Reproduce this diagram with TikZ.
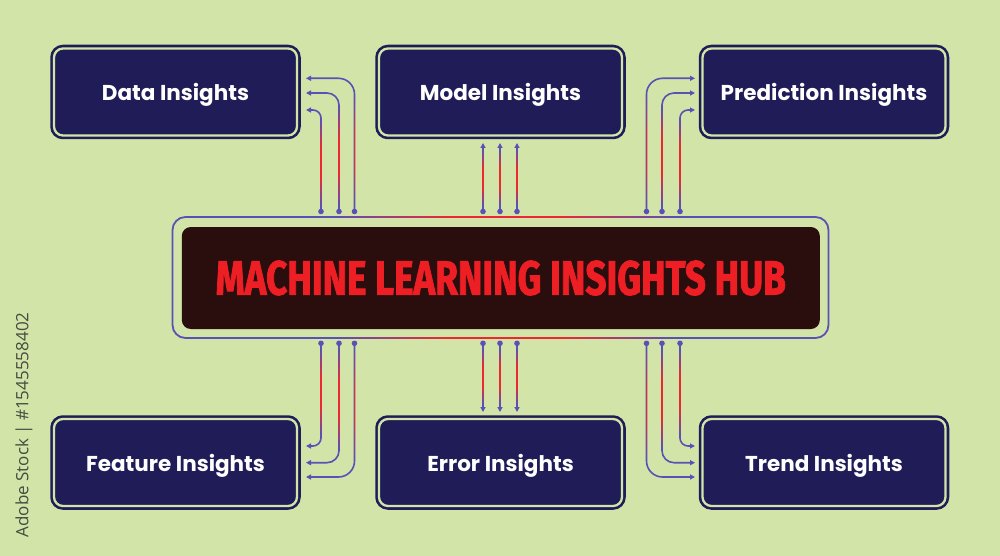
\documentclass[tikz,border=0pt]{standalone}
\usepackage{graphicx}
\usepackage{fontspec}
\setmainfont{Poppins}
\newfontfamily\titlefont[FakeBold=2]{Fira Sans}
\newfontfamily\wmfont{Open Sans}
\usetikzlibrary{arrows.meta}
\definecolor{bg}{RGB}{211,228,168}
\definecolor{navy}{RGB}{31,28,88}
\definecolor{hubfill}{RGB}{42,14,14}
\definecolor{hubred}{RGB}{237,30,36}
\definecolor{lineblue}{RGB}{90,80,182}
\definecolor{linered}{RGB}{238,40,50}
\definecolor{wmgray}{RGB}{70,76,64}
\tikzset{
  insight/.style={fill=navy, draw=navy, line width=2.6pt, double=bg, double distance=2.3pt,
    rounded corners=9pt, minimum width=243pt, minimum height=87pt, inner sep=0pt, outer sep=0pt,
    text=white, font=\fontsize{21.5}{23}\selectfont\bfseries, text depth=0pt},
  conn/.style={draw=lineblue, line width=1.6pt, -{Triangle[length=5pt,width=5pt]}},
  dotc/.style={fill=lineblue},
}
\begin{document}
\begin{tikzpicture}[x=1pt,y=-1pt]
\fill[bg] (0,0) rectangle (1000,556);
\useasboundingbox (0,0) rectangle (1000,556);

% insight boxes
\node[insight] (data)  at (175.5,92)  {Data Insights};
\node[insight] (model) at (500.5,92)  {Model Insights};
\node[insight] (pred)  at (824,92)    {Prediction Insights};
\node[insight] (feat)  at (175.5,462.5) {Feature Insights};
\node[insight] (err)   at (500.5,462.5) {Error Insights};
\node[insight] (trend) at (824,462.5)   {Trend Insights};

% hub
\node[draw=lineblue, line width=1.8pt, rounded corners=13pt, minimum width=656pt,
      minimum height=121pt, inner sep=0pt] (hubframe) at (500.5,277.5) {};
\node[fill=hubfill, rounded corners=9pt, minimum width=638pt, minimum height=102pt,
      inner sep=0pt] (hub) at (500.8,278) {};
% red glow on hub frame edges
\foreach \yy in {217,338}{
  \foreach \k in {0,...,67}{
    \pgfmathsetmacro\xa{335+5*\k}
    \pgfmathsetmacro\xb{\xa+5.4}
    \pgfmathsetmacro\xm{\xa+2.5}
    \pgfmathsetmacro\pr{max(0,min(100,min(\xm-335,675-\xm)/115*100))}
    \draw[line width=1.8pt, draw=linered!\pr!lineblue] (\xa,\yy) -- (\xb,\yy);
  }
}
\node[text=hubred, inner sep=0pt] (title) at (hub.center)
  {\resizebox{570pt}{34pt}{\titlefont\bfseries MACHINE LEARNING INSIGHTS HUB}};

% ---- connector coordinates
% top-left
\coordinate (tl1s) at (321,211.5);   \coordinate (tl1e) at (306,110);
\coordinate (tl2s) at (339,211.5);   \coordinate (tl2e) at (306,93);
\coordinate (tl3s) at (354.5,211.5); \coordinate (tl3e) at (306,78.3);
% top-right
\coordinate (tr1s) at (680,211.5);   \coordinate (tr1e) at (695,110);
\coordinate (tr2s) at (662,211.5);   \coordinate (tr2e) at (695,93);
\coordinate (tr3s) at (646.5,211.5); \coordinate (tr3e) at (695,78.3);
% bottom-left
\coordinate (bl1s) at (321,343.3);   \coordinate (bl1e) at (306,446);
\coordinate (bl2s) at (339,343.3);   \coordinate (bl2e) at (306,462.7);
\coordinate (bl3s) at (354.5,343.3); \coordinate (bl3e) at (306,477);
% bottom-right
\coordinate (br1s) at (680,343.3);   \coordinate (br1e) at (695,446);
\coordinate (br2s) at (662,343.3);   \coordinate (br2e) at (695,462.7);
\coordinate (br3s) at (646.5,343.3); \coordinate (br3e) at (695,477);
% middle
\foreach \i/\xx in {1/483,2/500,3/517}{
  \coordinate (tm\i s) at (\xx,211.5); \coordinate (tm\i e) at (\xx,143);
  \coordinate (bm\i s) at (\xx,343.3); \coordinate (bm\i e) at (\xx,412);
}

% bent connectors
\foreach \g in {tl,tr,bl,br}{
  \foreach \i/\r in {1/8,2/12,3/16}{
    \draw[conn, rounded corners=\r pt] (\g\i s) |- (\g\i e);
  }
}
% straight connectors
\foreach \i in {1,2,3}{
  \draw[conn] (tm\i s) -- (tm\i e);
  \draw[conn] (bm\i s) -- (bm\i e);
}
% red glow on vertical parts of the connectors
\foreach \xx/\ya/\yb in {321/206/120, 339/206/107, 354.5/206/96,
                         680/206/120, 662/206/107, 646.5/206/96,
                         321/349/436, 339/349/449, 354.5/349/459,
                         680/349/436, 662/349/449, 646.5/349/459,
                         483/206/150, 500/206/150, 517/206/150,
                         483/349/405, 500/349/405, 517/349/405}{
  \foreach \k in {0,...,23}{
    \pgfmathsetmacro\pa{\ya+(\yb-\ya)*\k/24}
    \pgfmathsetmacro\pb{\ya+(\yb-\ya)*(\k+1.15)/24}
    \pgfmathsetmacro\pr{min(100,150*(1-abs(2*(\k+0.5)/24-1)))}
    \draw[line width=1.6pt, draw=linered!\pr!lineblue] (\xx,\pa) -- (\xx,\pb);
  }
}
% dots
\foreach \g in {tl,tr,bl,br,tm,bm}{
  \foreach \i in {1,2,3}{
    \fill[dotc] (\g\i s) circle (2.8pt);
  }
}

% side credit text
\node[rotate=90, text=wmgray, font=\wmfont\fontsize{17}{18}\selectfont, inner sep=0pt]
  (credit) at (24,425) {Adobe Stock | \#1545558402};
\end{tikzpicture}
\end{document}
